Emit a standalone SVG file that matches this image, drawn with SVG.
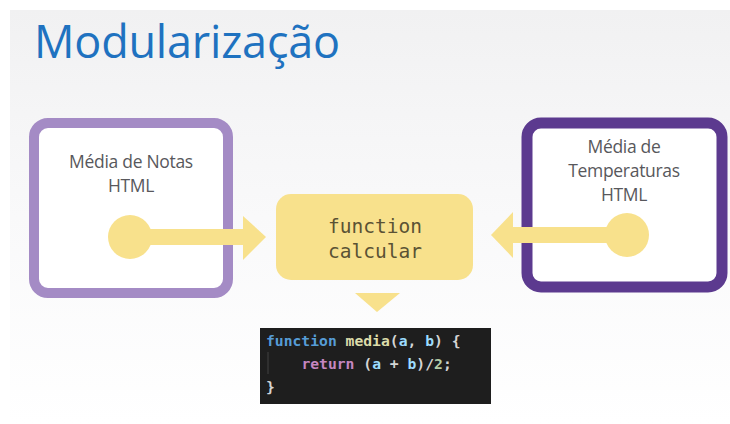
<svg xmlns="http://www.w3.org/2000/svg" width="730" height="424" viewBox="0 0 730 424">
  <defs>
    <linearGradient id="slideBg" x1="0" y1="0" x2="0" y2="1">
      <stop offset="0" stop-color="#f1f1f2"/>
      <stop offset="0.5" stop-color="#f9f9fa"/>
      <stop offset="1" stop-color="#ffffff"/>
    </linearGradient>
    <style>
      .label { font-family: "Open Sans", "Noto Sans", "Liberation Sans", sans-serif; font-size: 17.5px; fill: #58585c; text-anchor: middle; letter-spacing: -0.3px; }
      .yellow { fill: #f8e18c; }
      .mono { font-family: "DejaVu Sans Mono", "Liberation Mono", monospace; }
      .code { font-family: "DejaVu Sans Mono", "Liberation Mono", monospace; font-size: 14.7px; font-weight: bold; }
    </style>
  </defs>

  <!-- page and slide background -->
  <rect x="0" y="0" width="730" height="424" fill="#ffffff"/>
  <rect x="10" y="10" width="720" height="414" fill="url(#slideBg)"/>

  <!-- title -->
  <text x="34" y="58" font-family="'Open Sans', 'Noto Sans', 'Liberation Sans', sans-serif" font-size="45" fill="#1f72c0" letter-spacing="-0.2">Modularização</text>

  <!-- left module -->
  <g id="node-notas">
    <rect x="34" y="123" width="194" height="170" rx="14" fill="#ffffff" stroke="#a48bc5" stroke-width="10"/>
    <text class="label" x="131" y="168">Média de Notas</text>
    <text class="label" x="131" y="192">HTML</text>
  </g>

  <!-- right module -->
  <g id="node-temperaturas">
    <rect x="527" y="123" width="195" height="164" rx="14" fill="#ffffff" stroke="#5c3a8f" stroke-width="11"/>
    <text class="label" x="624" y="153">Média de</text>
    <text class="label" x="624" y="177">Temperaturas</text>
    <text class="label" x="624" y="201">HTML</text>
  </g>

  <!-- shared function -->
  <g id="node-calcular">
    <rect x="276" y="194" width="197" height="86" rx="15" class="yellow"/>
    <text class="mono" x="375" y="233" font-size="19.5" fill="#5a5234" text-anchor="middle">function</text>
    <text class="mono" x="375" y="258" font-size="19.5" fill="#5a5234" text-anchor="middle">calcular</text>
  </g>

  <!-- code sample -->
  <g id="node-code">
    <rect x="260" y="328" width="231" height="76" fill="#1e1e1e"/>
    <text class="code" x="266" y="346" xml:space="preserve"><tspan fill="#569cd6">function</tspan><tspan fill="#d4d4d4"> </tspan><tspan fill="#dcdcaa">media</tspan><tspan fill="#d4d4d4">(</tspan><tspan fill="#9cdcfe">a</tspan><tspan fill="#d4d4d4">, </tspan><tspan fill="#9cdcfe">b</tspan><tspan fill="#d4d4d4">) {</tspan></text>
    <line x1="268" y1="352" x2="268" y2="374" stroke="#404040" stroke-width="1"/>
    <text class="code" x="266" y="369" xml:space="preserve"><tspan fill="#d4d4d4">    </tspan><tspan fill="#c586c0">return</tspan><tspan fill="#d4d4d4"> (</tspan><tspan fill="#9cdcfe">a</tspan><tspan fill="#d4d4d4"> + </tspan><tspan fill="#9cdcfe">b</tspan><tspan fill="#d4d4d4">)/</tspan><tspan fill="#b5cea8">2</tspan><tspan fill="#d4d4d4">;</tspan></text>
    <text class="code" x="266" y="392" fill="#d4d4d4">}</text>
  </g>

  <!-- connectors -->
  <g id="connectors" class="yellow">
    <!-- left module into function -->
    <circle cx="130" cy="237" r="22"/>
    <rect x="130" y="229" width="114" height="16"/>
    <polygon points="243,216 266,237 243,260"/>
    <!-- right module into function -->
    <circle cx="627" cy="235" r="22"/>
    <rect x="512" y="227" width="115" height="16"/>
    <polygon points="513,212 491,235 513,258"/>
    <!-- function down to code -->
    <polygon points="355,293 400,293 377,312"/>
  </g>
</svg>
